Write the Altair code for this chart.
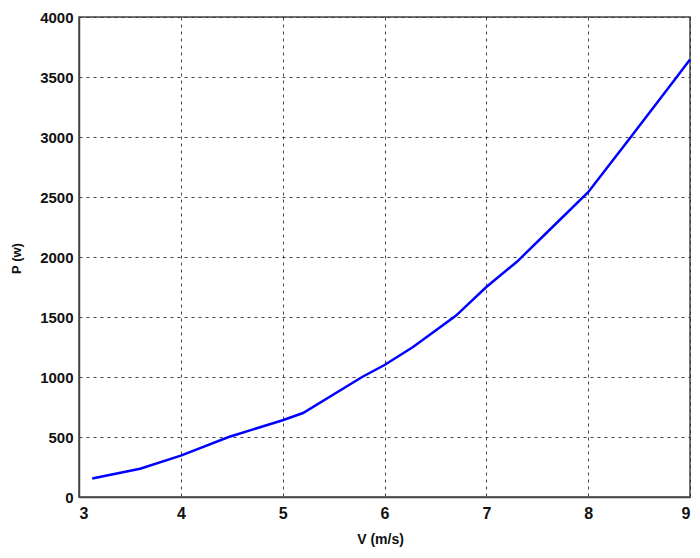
import altair as alt
import pandas as pd

# Wind speed (m/s) and power (W)
speed = [3.13, 3.6, 4.0, 4.47, 5.0, 5.2, 5.78, 6.0, 6.28, 6.7, 7.0, 7.3, 7.65, 8.0, 8.4, 8.87, 9.0]
power = [155, 235, 345, 500, 640, 700, 1000, 1100, 1250, 1510, 1750, 1960, 2250, 2540, 2980, 3500, 3645]

x_ticks = [3, 4, 5, 6, 7, 8, 9]
y_ticks = [0, 500, 1000, 1500, 2000, 2500, 3000, 3500, 4000]

df = pd.DataFrame({"V": speed, "P": power})

FONT = "Liberation Sans"

chart = (
    alt.Chart(df)
    .mark_line(color="#0000ff", strokeWidth=2.5)
    .encode(
        x=alt.X(
            "V:Q",
            scale=alt.Scale(domain=[3, 9], nice=False, zero=False),
            axis=alt.Axis(
                values=x_ticks,
                format="d",
                title="V (m/s)",
                titleX=301,
                titleY=42,
                titleBaseline="middle",
                labelPadding=8,
                labelFontSize=16,
                labelFontWeight="bold",
                labelFont=FONT,
                titleFont=FONT,
                titleFontSize=14,
                titleFontWeight="bold",
                grid=True,
                gridDash=[3, 4],
                gridColor="#333333",
                gridOpacity=0.9,
                gridWidth=1,
                domainColor="#444444",
                domainWidth=1.5,
                ticks=False,
                labelColor="#111111",
                titleColor="#111111",
            ),
        ),
        y=alt.Y(
            "P:Q",
            scale=alt.Scale(domain=[0, 4000], nice=False),
            axis=alt.Axis(
                values=y_ticks,
                format="d",
                title="P (w)",
                titleX=-63,
                titleY=241,
                titleAngle=-90,
                titleBaseline="middle",
                titleAlign="center",
                labelPadding=6,
                labelFontSize=15,
                labelFontWeight="bold",
                labelFont=FONT,
                titleFont=FONT,
                titleFontSize=13,
                titleFontWeight="bold",
                grid=True,
                gridDash=[3, 4],
                gridColor="#333333",
                gridOpacity=0.9,
                gridWidth=1,
                domainColor="#444444",
                domainWidth=1.5,
                ticks=False,
                labelColor="#111111",
                titleColor="#111111",
            ),
        ),
    )
    .properties(
        width=611,
        height=480,
        padding={"left": 71, "top": 9, "right": 2, "bottom": 53},
        autosize=alt.AutoSizeParams(type="none"),
        background="white",
    )
    .configure_view(stroke="#444444", strokeWidth=1.5)
)

chart.save("out.html", embed_options={"renderer": "svg", "actions": False})
